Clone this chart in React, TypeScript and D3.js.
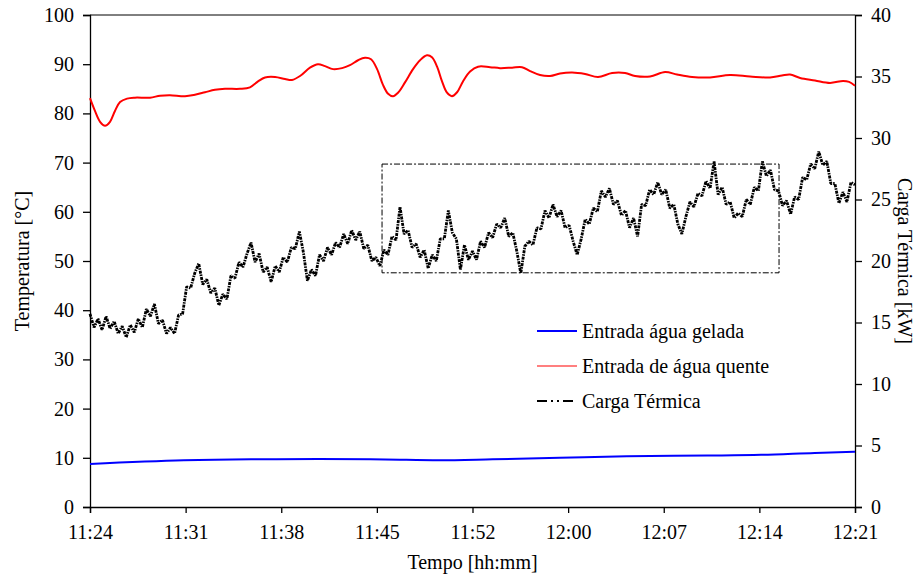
import React, { useEffect, useRef } from "react";
import * as d3 from "d3";

// time axis (minutes after 11:24)
const xTickLabels = ["11:24", "11:31", "11:38", "11:45", "11:52", "12:00", "12:07", "12:14", "12:21"];
const totalMinutes = 57;

// Entrada de água quente [°C]
const hotTime = [0, 0.37, 0.75, 1.12, 1.49, 1.86, 2.24, 2.76, 3.35, 4.47, 5.22, 5.96, 7.08, 7.82, 8.57, 9.31, 10.06, 11.18, 11.92, 12.52, 13.04, 13.79, 14.53, 15.05, 15.65, 16.39, 16.99, 17.51, 18.11, 18.78, 19.37, 19.97, 20.49, 20.94, 21.39, 21.83, 22.21, 22.58, 22.95, 23.47, 24.07, 24.59, 25.11, 25.48, 25.86, 26.23, 26.6, 26.97, 27.35, 27.79, 28.32, 28.91, 29.81, 30.55, 31.45, 32.19, 32.79, 33.53, 34.28, 35.02, 35.92, 36.89, 37.85, 38.9, 39.87, 40.61, 41.73, 42.85, 43.74, 44.86, 46.2, 47.69, 49.18, 50.67, 51.56, 52.16, 52.91, 54.02, 55.14, 56.11, 56.56, 57];
const hotTemp = [83.1, 80.5, 78.3, 77.5, 78.3, 80.5, 82.3, 83.0, 83.2, 83.2, 83.6, 83.7, 83.5, 83.8, 84.3, 84.8, 85.0, 85.0, 85.3, 86.5, 87.3, 87.4, 87.0, 86.8, 87.6, 89.3, 90.0, 89.6, 89.0, 89.2, 89.8, 90.8, 91.3, 91.0, 89.0, 85.8, 84.0, 83.5, 84.2, 86.3, 89.0, 90.8, 91.8, 91.4, 89.5, 86.5, 84.2, 83.5, 84.3, 86.5, 88.5, 89.5, 89.4, 89.2, 89.3, 89.4, 88.6, 87.8, 87.6, 88.1, 88.3, 88.0, 87.4, 88.2, 88.2, 87.6, 87.5, 88.4, 87.9, 87.4, 87.3, 87.8, 87.5, 87.3, 87.7, 87.9, 87.2, 86.7, 86.2, 86.6, 86.4, 85.6];

// Entrada água gelada [°C]
const coldTime = [0, 7, 12, 17, 22, 26, 30, 35, 40, 46, 50, 54, 57];
const coldTemp = [8.75, 9.5, 9.7, 9.75, 9.65, 9.5, 9.7, 10.0, 10.3, 10.45, 10.6, 11.0, 11.25];

// Carga Térmica [kW], sampled every 0.3 min from 11:24
const loadStep = 0.3;
const loadKW = [
  15.7, 14.6, 15.3, 14.4, 15.5, 14.5, 15.1, 14.1, 14.7, 13.8,
  14.8, 14.2, 15.3, 14.6, 16.1, 15.5, 16.5, 14.9, 15.2, 14.1,
  14.6, 14.1, 15.6, 15.7, 17.9, 17.8, 19.0, 19.8, 18.1, 18.5,
  17.4, 17.8, 16.4, 17.3, 16.9, 18.8, 18.6, 19.9, 19.5, 20.6,
  21.5, 19.9, 20.6, 19.1, 19.5, 18.3, 19.6, 19.1, 20.3, 19.9,
  21.1, 21.0, 22.4, 20.7, 18.4, 19.3, 18.8, 20.5, 20.0, 21.1,
  20.5, 21.5, 21.1, 22.2, 21.4, 22.5, 21.7, 22.4, 21.0, 21.3,
  20.0, 20.3, 19.6, 20.9, 20.5, 22.0, 21.7, 24.4, 22.2, 22.5,
  21.1, 21.4, 20.3, 20.9, 19.4, 20.5, 20.0, 21.8, 21.8, 24.1,
  22.3, 21.8, 19.3, 21.3, 20.1, 20.8, 20.1, 21.6, 21.1, 22.3,
  21.9, 23.0, 22.7, 23.5, 22.0, 22.3, 20.8, 19.0, 21.2, 21.6,
  21.3, 22.7, 22.6, 24.1, 23.5, 24.6, 23.6, 24.1, 22.7, 22.9,
  21.6, 20.5, 21.8, 23.4, 23.0, 24.3, 24.0, 25.7, 25.2, 25.9,
  24.6, 24.9, 23.7, 24.1, 22.7, 23.5, 22.0, 24.6, 24.5, 25.8,
  25.4, 26.4, 25.4, 25.8, 24.3, 24.6, 23.0, 22.2, 23.6, 24.8,
  24.4, 25.5, 25.3, 26.5, 25.9, 28.1, 25.4, 26.0, 24.6, 24.8,
  23.5, 23.9, 23.6, 25.0, 24.6, 26.0, 25.7, 28.1, 26.9, 27.4,
  25.8, 25.7, 24.5, 24.9, 23.8, 25.2, 25.0, 26.8, 26.6, 27.9,
  27.5, 28.9, 27.8, 28.1, 26.3, 26.3, 24.7, 25.6, 24.8, 26.4,
  26.2,
];

// highlighted region (minutes, °C)
const boxTime = [21.76, 51.34];
const boxTemp = [47.6, 69.7];

const legendLabels = ["Entrada água gelada", "Entrada de água quente", "Carga Térmica"];
const leftTicks = [0, 10, 20, 30, 40, 50, 60, 70, 80, 90, 100];
const rightTicks = [0, 5, 10, 15, 20, 25, 30, 35, 40];

const W = 920;
const H = 574;
const M = { left: 90, right: 65, top: 15, bottom: 67 };
const FONT = "'Liberation Serif', 'Times New Roman', serif";

export default function App() {
  const ref = useRef<SVGSVGElement | null>(null);

  useEffect(() => {
    const svg = d3.select(ref.current);
    svg.selectAll("*").remove();

    const x = d3.scaleLinear().domain([0, totalMinutes]).range([M.left, W - M.right]);
    const yL = d3.scaleLinear().domain([0, 100]).range([H - M.bottom, M.top]);
    const yR = d3.scaleLinear().domain([0, 40]).range([H - M.bottom, M.top]);

    const g = svg.append("g");

    // frame top line
    g.append("line")
      .attr("x1", x(0)).attr("x2", x(totalMinutes))
      .attr("y1", yL(100)).attr("y2", yL(100))
      .attr("stroke", "#000").attr("stroke-width", 1);

    const leftAxis = d3.axisLeft(yL).tickValues(leftTicks).tickSize(7).tickPadding(9).tickFormat(d3.format("d"));
    const la = g.append("g").attr("transform", `translate(${x(0)},0)`).call(leftAxis);

    const rightAxis = d3.axisRight(yR).tickValues(rightTicks).tickSize(7).tickPadding(9).tickFormat(d3.format("d"));
    const ra = g.append("g").attr("transform", `translate(${x(totalMinutes)},0)`).call(rightAxis);

    const xTickVals = xTickLabels.map((_, i) => (i * totalMinutes) / (xTickLabels.length - 1));
    const bottomAxis = d3.axisBottom(x).tickValues(xTickVals).tickSize(6).tickPadding(12)
      .tickFormat((_, i) => xTickLabels[i]);
    const ba = g.append("g").attr("transform", `translate(0,${yL(0)})`).call(bottomAxis);

    [la, ra, ba].forEach((a) => {
      a.select(".domain").attr("stroke", "#000").attr("stroke-width", 1.3);
      a.selectAll(".tick line").attr("stroke", "#000").attr("stroke-width", 1.3);
      a.selectAll(".tick text").attr("fill", "#000").attr("font-family", FONT).attr("font-size", 20);
    });

    const coldLine = d3.line<number>()
      .x((_, i) => x(coldTime[i]))
      .y((d) => yL(d))
      .curve(d3.curveMonotoneX);
    g.append("path").datum(coldTemp).attr("d", coldLine)
      .attr("fill", "none").attr("stroke", "#0000ff").attr("stroke-width", 2);

    const hotLine = d3.line<number>()
      .x((_, i) => x(hotTime[i]))
      .y((d) => yL(d))
      .curve(d3.curveCatmullRom);
    g.append("path").datum(hotTemp).attr("d", hotLine)
      .attr("fill", "none").attr("stroke", "#ff0000").attr("stroke-width", 2);

    const loadLine = d3.line<number>()
      .x((_, i) => x(i * loadStep))
      .y((d) => yR(d));
    g.append("path").datum(loadKW).attr("d", loadLine)
      .attr("fill", "none").attr("stroke", "#000").attr("stroke-width", 2.8)
      .attr("stroke-linejoin", "bevel")
      .attr("stroke-dasharray", "3,1,1.5,1");

    g.append("rect")
      .attr("x", x(boxTime[0])).attr("y", yL(boxTemp[1]))
      .attr("width", x(boxTime[1]) - x(boxTime[0]))
      .attr("height", yL(boxTemp[0]) - yL(boxTemp[1]))
      .attr("fill", "none").attr("stroke", "#000").attr("stroke-width", 1)
      .attr("stroke-dasharray", "6,2,2,2");

    const legX = 537;
    const legY = 331;
    const legStep = 35;
    const styles = [
      { stroke: "#0000ff", w: 2, dash: null as string | null },
      { stroke: "#ff0000", w: 1.2, dash: null as string | null },
      { stroke: "#000", w: 2.2, dash: "10,4,2,4,2,4" },
    ];
    legendLabels.forEach((lab, i) => {
      const yy = legY + i * legStep;
      const ln = g.append("line")
        .attr("x1", legX).attr("x2", legX + 40)
        .attr("y1", yy).attr("y2", yy)
        .attr("stroke", styles[i].stroke).attr("stroke-width", styles[i].w);
      if (styles[i].dash) ln.attr("stroke-dasharray", styles[i].dash);
      g.append("text").attr("x", legX + 45).attr("y", yy).attr("dy", "0.35em")
        .attr("font-family", FONT).attr("font-size", 20).attr("fill", "#000").text(lab);
    });

    g.append("text").attr("x", (x(0) + x(totalMinutes)) / 2).attr("y", 562).attr("dy", "0.35em")
      .attr("text-anchor", "middle").attr("font-family", FONT).attr("font-size", 20).text("Tempo [hh:mm]");
    g.append("text")
      .attr("transform", `translate(22,${(yL(0) + yL(100)) / 2}) rotate(-90)`)
      .attr("dy", "0.35em").attr("text-anchor", "middle")
      .attr("font-family", FONT).attr("font-size", 20).text("Temperatura [°C]");
    g.append("text")
      .attr("transform", `translate(905,${(yL(0) + yL(100)) / 2}) rotate(90)`)
      .attr("dy", "0.35em").attr("text-anchor", "middle")
      .attr("font-family", FONT).attr("font-size", 20).text("Carga Térmica [kW]");
  }, []);

  return (
    <svg
      ref={ref}
      width={W}
      height={H}
      style={{ position: "absolute", left: 0, top: 0, background: "#fff", display: "block" }}
    />
  );
}
